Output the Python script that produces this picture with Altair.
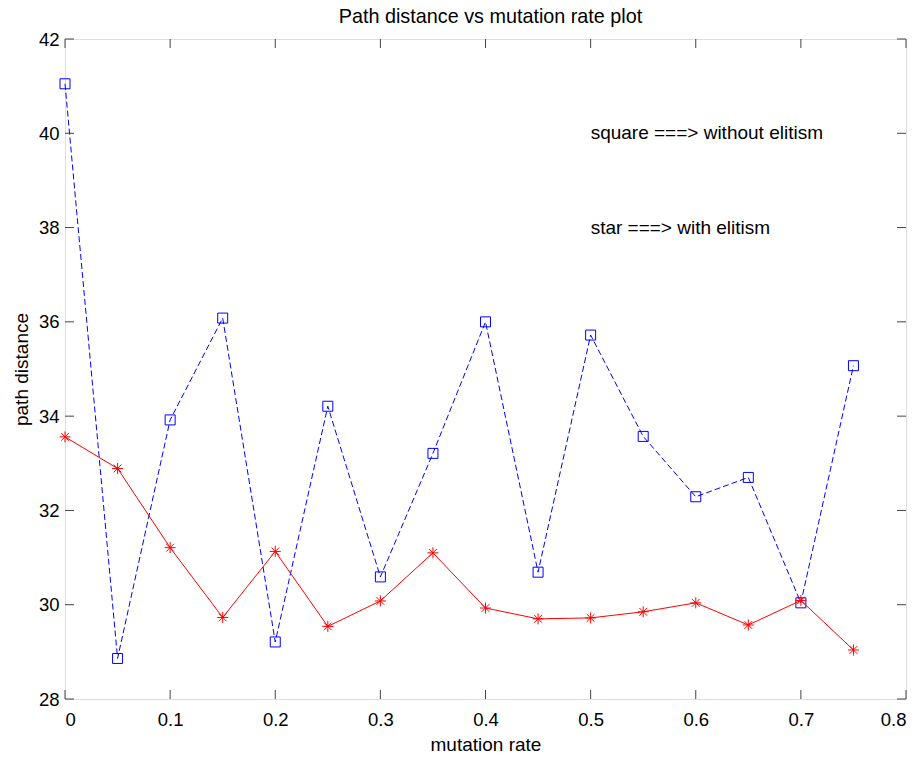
import altair as alt
import pandas as pd

# Mutation rates tested and the resulting path distances
rates = [0.0, 0.05, 0.1, 0.15, 0.2, 0.25, 0.3, 0.35, 0.4, 0.45, 0.5, 0.55, 0.6, 0.65, 0.7, 0.75]
without_elitism = [41.05, 28.86, 33.92, 36.08, 29.21, 34.21, 30.59, 33.21, 36.00, 30.69,
                   35.72, 33.57, 32.29, 32.70, 30.04, 35.07]
with_elitism = [33.56, 32.89, 31.21, 29.73, 31.13, 29.54, 30.08, 31.10, 29.93, 29.70,
                29.72, 29.85, 30.04, 29.57, 30.09, 29.04]

x_ticks = [0, 0.1, 0.2, 0.3, 0.4, 0.5, 0.6, 0.7, 0.8]
y_ticks = [28, 30, 32, 34, 36, 38, 40, 42]

notes = ["square ===> without elitism", "star ===> with elitism"]
note_x = [0.5, 0.5]
note_y = [40, 38]

FONT = "Liberation Sans"
W, H = 841, 660
TICK = 9

blue_df = pd.DataFrame({"rate": rates, "dist": without_elitism})
red_df = pd.DataFrame({"rate": rates, "dist": with_elitism})
xt_df = pd.DataFrame({"rate": x_ticks})
yt_df = pd.DataFrame({"dist": y_ticks})
note_df = pd.DataFrame({"rate": note_x, "dist": note_y, "label": notes})

x_axis = alt.Axis(values=x_ticks, format="~g", ticks=False, grid=False, domain=False,
                  labelFont=FONT, labelFontSize=18.5, labelColor="black", labelPadding=11,
                  title="mutation rate", titleFont=FONT, titleFontSize=19, titleFontWeight="normal",
                  titleColor="black", titleBaseline="alphabetic", titleY=51)
y_axis = alt.Axis(values=y_ticks, format="d", ticks=False, grid=False, domain=False,
                  labelFont=FONT, labelFontSize=18.5, labelColor="black", labelPadding=6,
                  title="path distance", titleFont=FONT, titleFontSize=19, titleFontWeight="normal",
                  titleColor="black", titleBaseline="middle", titleX=-44, titleAngle=270)

xs = alt.Scale(domain=[0, 0.8], nice=False, zero=False)
ys = alt.Scale(domain=[28, 42], nice=False, zero=False)

X = alt.X("rate:Q", scale=xs, axis=x_axis)
Y = alt.Y("dist:Q", scale=ys, axis=y_axis)

# Asterisk marker: horizontal, vertical and two diagonal strokes
asterisk = "M-1,0L1,0M0,-1L0,1M-0.7,-0.7L0.7,0.7M-0.7,0.7L0.7,-0.7"

blue_line = alt.Chart(blue_df).mark_line(color="#0000ff", strokeWidth=1, strokeDash=[6, 3]).encode(x=X, y=Y)
blue_pts = alt.Chart(blue_df).mark_point(shape="square", filled=False, size=100, color="#0000ff",
                                         strokeWidth=1, opacity=1).encode(x=X, y=Y)
red_line = alt.Chart(red_df).mark_line(color="#ff0000", strokeWidth=1).encode(x=X, y=Y)
red_pts = alt.Chart(red_df).mark_point(shape=asterisk, filled=False, size=121, color="#ff0000",
                                       strokeWidth=1, opacity=1).encode(x=X, y=Y)

text = alt.Chart(note_df).mark_text(align="left", baseline="middle", font=FONT, fontSize=19,
                                    color="black").encode(x=X, y=Y, text="label:N")

# Inward ticks on all four sides of the box
tick_color = "#444444"
xb = alt.Chart(xt_df).mark_rule(color=tick_color, strokeWidth=1).encode(
    x=X, y=alt.value(H), y2=alt.value(H - TICK))
xt = alt.Chart(xt_df).mark_rule(color=tick_color, strokeWidth=1).encode(
    x=X, y=alt.value(0), y2=alt.value(TICK))
yl = alt.Chart(yt_df).mark_rule(color=tick_color, strokeWidth=1).encode(
    y=Y, x=alt.value(0), x2=alt.value(TICK))
yr = alt.Chart(yt_df).mark_rule(color=tick_color, strokeWidth=1).encode(
    y=Y, x=alt.value(W), x2=alt.value(W - TICK))

chart = alt.layer(xb, xt, yl, yr, blue_line, blue_pts, red_line, red_pts, text).properties(
    width=W, height=H,
    title=alt.TitleParams("Path distance vs mutation rate plot", font=FONT, fontSize=19.8,
                          fontWeight="normal", color="black", anchor="middle",
                          baseline="alphabetic", offset=0, dy=13, dx=5),
    autosize=alt.AutoSizeParams(type="none"),
    padding={"left": 65, "top": 39, "right": 18, "bottom": 58},
).configure_view(stroke="black", strokeWidth=1).configure(background="white")

chart.save("out.html", embed_options={"renderer": "svg", "actions": False})
